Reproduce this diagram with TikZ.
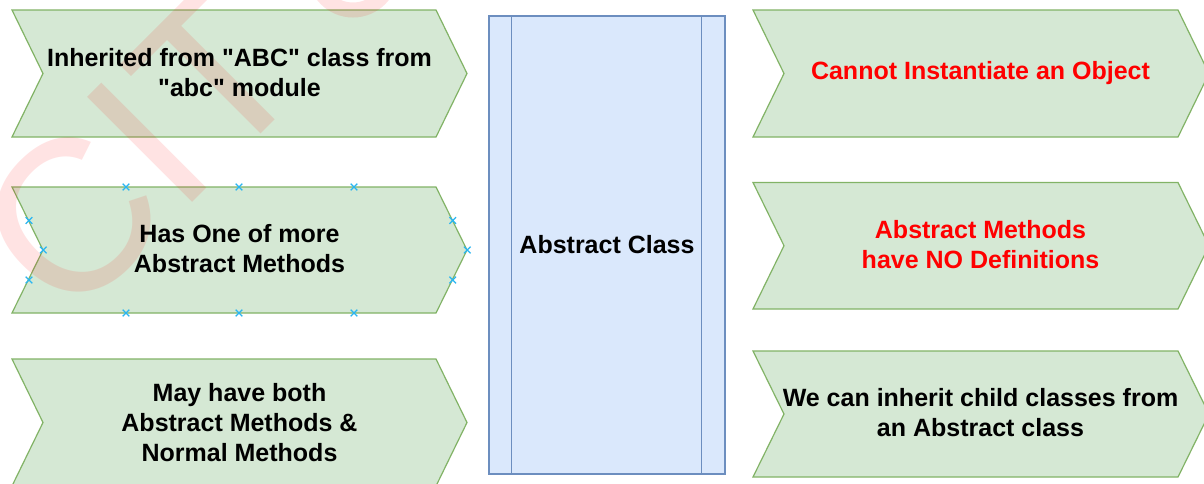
\documentclass[tikz,border=0pt]{standalone}
\usepackage{fontspec}
\setmainfont{Liberation Sans}
\newfontfamily\lsans{Liberation Sans}
\definecolor{gfill}{HTML}{D5E8D4}
\definecolor{gline}{HTML}{82B366}
\definecolor{bfill}{HTML}{DAE8FC}
\definecolor{bline}{HTML}{6C8EBF}
\definecolor{selblue}{HTML}{29B6F2}
\definecolor{redtxt}{HTML}{FF0000}
\begin{document}
\begin{tikzpicture}[x=1pt,y=-1pt,
  chev/.style={fill=gfill, draw=gline, line width=1.2pt, line join=miter},
  lbl/.style={align=center, inner sep=0pt, font=\lsans\fontsize{25}{30}\selectfont\bfseries, text=black},
  redlbl/.style={lbl, text=redtxt},
  wm/.style={opacity=0.11},
  selcross/.pic={\draw[selblue, line width=1.3pt] (-3.3,-3.3) -- (3.3,3.3) (-3.3,3.3) -- (3.3,-3.3);}
]
\useasboundingbox (0,0) rectangle (1204,483);
\clip (0,0) rectangle (1204,483);
\fill[white] (0,0) rectangle (1204,483);

% left chevrons
\draw[chev] (12,10) -- (436,10) -- (467,73.5) -- (436,137) -- (12,137) -- (43,73.5) -- cycle;
\draw[chev] (12,187) -- (436,187) -- (467,250) -- (436,313) -- (12,313) -- (43,250) -- cycle;
\draw[chev] (12,359) -- (436,359) -- (467,422.5) -- (436,486) -- (12,486) -- (43,422.5) -- cycle;

% right chevrons
\draw[chev] (753,10) -- (1178,10) -- (1209,73.5) -- (1178,137) -- (753,137) -- (784,73.5) -- cycle;
\draw[chev] (753,182.5) -- (1178,182.5) -- (1209,245.7) -- (1178,309) -- (753,309) -- (784,245.7) -- cycle;
\draw[chev] (753,351) -- (1178,351) -- (1209,414) -- (1178,477) -- (753,477) -- (784,414) -- cycle;

% central process box
\node (absclass) [draw=bline, fill=bfill, line width=1.2pt, minimum width=236pt, minimum height=458pt, inner sep=0pt] at (607,245) {};
\draw[bline, line width=1.2pt] ([xshift=23pt]absclass.north west) -- ([xshift=23pt]absclass.south west);
\draw[bline, line width=1.2pt] ([xshift=-24pt]absclass.north east) -- ([xshift=-24pt]absclass.south east);

% watermark
\node[wm, text=red, rotate=45, anchor=base west, inner sep=0pt, font=\lsans\fontsize{216}{216}\selectfont] (wmark) at (68.5,326.5) {CIT};
\draw[wm, red, line width=15pt] (353,-28) circle (38);

% selection markers
\foreach \px/\py in {126/187, 239/187, 354/187, 126/313, 239/313, 354/313,
                     29/220.5, 43.3/250, 29/280, 452.7/220.5, 467.3/250, 452.7/280}
  \pic at (\px,\py) {selcross};

% texts
\node[lbl] (t1) at (239.5,72.5) {Inherited from "ABC" class from\\"abc" module};
\node[lbl] (t2) at (239.5,249) {Has One of more\\Abstract Methods};
\node[lbl] (t3) at (239.5,422.5) {May have both\\Abstract Methods \&\\Normal Methods};
\node[lbl] (tc) at (607,244.5) {Abstract Class};
\node[redlbl] (r1) at (980.5,73) {Cannot Instantiate an Object};
\node[redlbl] (r2) at (980.5,245) {Abstract Methods\\have NO Definitions};
\node[lbl] (r3) at (980.5,413) {We can inherit child classes from\\an Abstract class};
\end{tikzpicture}
\end{document}
